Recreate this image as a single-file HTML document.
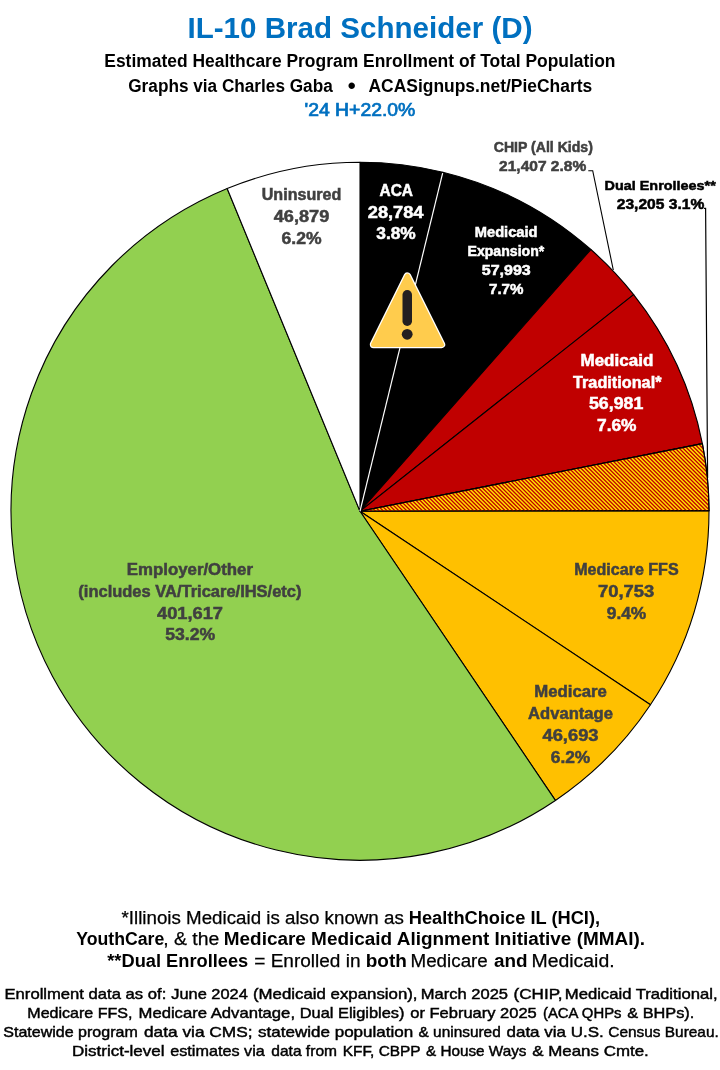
<!DOCTYPE html>
<html lang="en"><head><meta charset="utf-8"><title>IL-10 Brad Schneider (D)</title>
<style>
html,body{margin:0;padding:0;background:#fff;}
body{width:720px;height:1070px;overflow:hidden;}
svg{display:block;}
text{font-family:"Liberation Sans",sans-serif;}
.b{font-weight:bold;}
.g{fill:#404040;}
.w{fill:#ffffff;}
.k{fill:#000000;}
.bl{fill:#0070C0;}
.m{stroke:#000;stroke-width:0.45px;}
.r{stroke:#000;stroke-width:0.25px;}
.h{stroke:#000;stroke-width:0.5px;}
.sb{stroke:#0070C0;stroke-width:0.7px;}
.g.b{stroke:#404040;stroke-width:0.5px;}
.w.b{stroke:#fff;stroke-width:0.5px;}
</style></head><body>
<svg width="720" height="1070" viewBox="0 0 720 1070">
<defs>
<clipPath id="dualclip"><path d="M360.0 511.25L702.38 443.62A349.0 349.0 0 0 1 709.00 510.65Z"/></clipPath>
</defs>
<rect width="720" height="1070" fill="#ffffff"/>
<path d="M360.0 511.25L360.00 162.25A349.0 349.0 0 0 1 442.88 172.23Z" fill="#000000" stroke="#000" stroke-width="1.1" stroke-linejoin="round"/>
<path d="M360.0 511.25L442.88 172.23A349.0 349.0 0 0 1 590.87 249.52Z" fill="#000000" stroke="#000" stroke-width="1.1" stroke-linejoin="round"/>
<path d="M360.0 511.25L590.87 249.52A349.0 349.0 0 0 1 633.63 294.62Z" fill="#C00000" stroke="#000" stroke-width="1.1" stroke-linejoin="round"/>
<path d="M360.0 511.25L633.63 294.62A349.0 349.0 0 0 1 702.38 443.62Z" fill="#C00000" stroke="#000" stroke-width="1.1" stroke-linejoin="round"/>
<path d="M360.0 511.25L702.38 443.62A349.0 349.0 0 0 1 709.00 510.65Z" fill="#FFE000" stroke="#000" stroke-width="1.1" stroke-linejoin="round"/>
<path d="M360.0 511.25L709.00 510.65A349.0 349.0 0 0 1 650.46 704.73Z" fill="#FFC000" stroke="#000" stroke-width="1.1" stroke-linejoin="round"/>
<path d="M360.0 511.25L650.46 704.73A349.0 349.0 0 0 1 555.40 800.42Z" fill="#FFC000" stroke="#000" stroke-width="1.1" stroke-linejoin="round"/>
<path d="M360.0 511.25L555.40 800.42A349.0 349.0 0 1 1 227.16 188.52Z" fill="#92D050" stroke="#000" stroke-width="1.1" stroke-linejoin="round"/>
<path d="M360.0 511.25L227.16 188.52A349.0 349.0 0 0 1 360.00 162.25Z" fill="#FFFFFF" stroke="#000" stroke-width="1.1" stroke-linejoin="round"/>
<path d="M284.37 439.62l73.63 73.63M288.31 439.62l73.63 73.63M292.25 439.62l73.63 73.63M296.19 439.62l73.63 73.63M300.13 439.62l73.63 73.63M304.07 439.62l73.63 73.63M308.01 439.62l73.63 73.63M311.95 439.62l73.63 73.63M315.89 439.62l73.63 73.63M319.83 439.62l73.63 73.63M323.77 439.62l73.63 73.63M327.71 439.62l73.63 73.63M331.65 439.62l73.63 73.63M335.59 439.62l73.63 73.63M339.53 439.62l73.63 73.63M343.47 439.62l73.63 73.63M347.41 439.62l73.63 73.63M351.35 439.62l73.63 73.63M355.29 439.62l73.63 73.63M359.23 439.62l73.63 73.63M363.17 439.62l73.63 73.63M367.11 439.62l73.63 73.63M371.05 439.62l73.63 73.63M374.99 439.62l73.63 73.63M378.93 439.62l73.63 73.63M382.87 439.62l73.63 73.63M386.81 439.62l73.63 73.63M390.75 439.62l73.63 73.63M394.69 439.62l73.63 73.63M398.63 439.62l73.63 73.63M402.57 439.62l73.63 73.63M406.51 439.62l73.63 73.63M410.45 439.62l73.63 73.63M414.39 439.62l73.63 73.63M418.33 439.62l73.63 73.63M422.27 439.62l73.63 73.63M426.21 439.62l73.63 73.63M430.15 439.62l73.63 73.63M434.09 439.62l73.63 73.63M438.03 439.62l73.63 73.63M441.97 439.62l73.63 73.63M445.91 439.62l73.63 73.63M449.85 439.62l73.63 73.63M453.79 439.62l73.63 73.63M457.73 439.62l73.63 73.63M461.67 439.62l73.63 73.63M465.61 439.62l73.63 73.63M469.55 439.62l73.63 73.63M473.49 439.62l73.63 73.63M477.43 439.62l73.63 73.63M481.37 439.62l73.63 73.63M485.31 439.62l73.63 73.63M489.25 439.62l73.63 73.63M493.19 439.62l73.63 73.63M497.13 439.62l73.63 73.63M501.07 439.62l73.63 73.63M505.01 439.62l73.63 73.63M508.95 439.62l73.63 73.63M512.89 439.62l73.63 73.63M516.83 439.62l73.63 73.63M520.77 439.62l73.63 73.63M524.71 439.62l73.63 73.63M528.65 439.62l73.63 73.63M532.59 439.62l73.63 73.63M536.53 439.62l73.63 73.63M540.47 439.62l73.63 73.63M544.41 439.62l73.63 73.63M548.35 439.62l73.63 73.63M552.29 439.62l73.63 73.63M556.23 439.62l73.63 73.63M560.17 439.62l73.63 73.63M564.11 439.62l73.63 73.63M568.05 439.62l73.63 73.63M571.99 439.62l73.63 73.63M575.93 439.62l73.63 73.63M579.87 439.62l73.63 73.63M583.81 439.62l73.63 73.63M587.75 439.62l73.63 73.63M591.69 439.62l73.63 73.63M595.63 439.62l73.63 73.63M599.57 439.62l73.63 73.63M603.51 439.62l73.63 73.63M607.45 439.62l73.63 73.63M611.39 439.62l73.63 73.63M615.33 439.62l73.63 73.63M619.27 439.62l73.63 73.63M623.21 439.62l73.63 73.63M627.15 439.62l73.63 73.63M631.09 439.62l73.63 73.63M635.03 439.62l73.63 73.63M638.97 439.62l73.63 73.63M642.91 439.62l73.63 73.63M646.85 439.62l73.63 73.63M650.79 439.62l73.63 73.63M654.73 439.62l73.63 73.63M658.67 439.62l73.63 73.63M662.61 439.62l73.63 73.63M666.55 439.62l73.63 73.63M670.49 439.62l73.63 73.63M674.43 439.62l73.63 73.63M678.37 439.62l73.63 73.63M682.31 439.62l73.63 73.63M686.25 439.62l73.63 73.63M690.19 439.62l73.63 73.63M694.13 439.62l73.63 73.63M698.07 439.62l73.63 73.63M702.01 439.62l73.63 73.63M705.95 439.62l73.63 73.63M709.89 439.62l73.63 73.63M713.83 439.62l73.63 73.63" stroke="#C00000" stroke-width="1.309" fill="none" clip-path="url(#dualclip)"/>
<path d="M360.0 511.25L702.38 443.62A349.0 349.0 0 0 1 709.00 510.65Z" fill="none" stroke="#000" stroke-width="1.1" stroke-linejoin="round"/>
<line x1="360.0" y1="511.25" x2="442.64" y2="173.20" stroke="#fff" stroke-width="1.2"/>
<polyline points="588.3,170.7 592.7,170.7 613.3,270" fill="none" stroke="#000" stroke-width="1.1"/>
<polyline points="704,208.3 705.6,208.3 707.6,478" fill="none" stroke="#000" stroke-width="1.2"/>
<g>
<path d="M407.4 276 L441.5 344.5 L373.5 344.5 Z" fill="#fff" stroke="#fff" stroke-width="7.4" stroke-linejoin="round"/>
<path d="M407.4 276 L441.5 344.5 L373.5 344.5 Z" fill="#FFCC4D" stroke="#FFCC4D" stroke-width="5" stroke-linejoin="round"/>
<rect x="402.5" y="290" width="9.5" height="36" rx="4.75" fill="#231F20"/>
<circle cx="407.2" cy="334.3" r="5.4" fill="#231F20"/>
</g>
<text id="t0" x="187.50" y="37.50" font-size="30" class="b bl" textLength="345.04" lengthAdjust="spacingAndGlyphs">IL-10 Brad Schneider (D)</text>
<text id="t1" x="104.25" y="66.50" font-size="17.5" class="b k" textLength="511.26" lengthAdjust="spacingAndGlyphs">Estimated Healthcare Program Enrollment of Total Population</text>
<text id="t2" x="128.25" y="92.00" font-size="17.5" class="b k" textLength="204.50" lengthAdjust="spacingAndGlyphs">Graphs via Charles Gaba</text>
<text x="351.6" y="93.7" font-size="24" class="k" text-anchor="middle">•</text>
<text id="t3" x="368.50" y="92.00" font-size="17.5" class="b k" textLength="223.76" lengthAdjust="spacingAndGlyphs">ACASignups.net/PieCharts</text>
<text id="t4" x="304.50" y="116.00" font-size="17.5" class="bl sb" textLength="110.77" lengthAdjust="spacingAndGlyphs">'24 H+22.0%</text>
<text id="t5" x="261.75" y="200.00" font-size="15.6" class="b g" textLength="79.53" lengthAdjust="spacingAndGlyphs">Uninsured</text>
<text id="t6" x="273.75" y="222.00" font-size="16.1" class="b g" textLength="55.50" lengthAdjust="spacingAndGlyphs">46,879</text>
<text id="t7" x="281.50" y="243.75" font-size="16.1" class="b g" textLength="40.01" lengthAdjust="spacingAndGlyphs">6.2%</text>
<text id="t8" x="379.50" y="195.75" font-size="15.6" class="b w" textLength="33.50" lengthAdjust="spacingAndGlyphs">ACA</text>
<text id="t9" x="367.75" y="217.75" font-size="16.1" class="b w" textLength="55.75" lengthAdjust="spacingAndGlyphs">28,784</text>
<text id="t10" x="376.25" y="239.25" font-size="16.1" class="b w" textLength="39.50" lengthAdjust="spacingAndGlyphs">3.8%</text>
<text id="t11" x="474.75" y="237.00" font-size="13.9" class="b w" textLength="62.78" lengthAdjust="spacingAndGlyphs">Medicaid</text>
<text id="t12" x="467.50" y="255.75" font-size="13.9" class="b w" textLength="76.75" lengthAdjust="spacingAndGlyphs">Expansion*</text>
<text id="t13" x="481.75" y="275.00" font-size="14.3" class="b w" textLength="49.01" lengthAdjust="spacingAndGlyphs">57,993</text>
<text id="t14" x="489.00" y="293.75" font-size="14.3" class="b w" textLength="34.51" lengthAdjust="spacingAndGlyphs">7.7%</text>
<text id="t15" x="493.75" y="151.70" font-size="14.0" class="b g" textLength="99.11" lengthAdjust="spacingAndGlyphs">CHIP (All Kids)</text>
<text id="t16" x="499.10" y="170.80" font-size="14.4" class="b g" textLength="87.15" lengthAdjust="spacingAndGlyphs">21,407 2.8%</text>
<text id="t17" x="604.60" y="189.90" font-size="13.3" class="b k h" textLength="111.15" lengthAdjust="spacingAndGlyphs">Dual Enrollees**</text>
<text id="t18" x="616.75" y="209.30" font-size="14.1" class="b k h" textLength="87.50" lengthAdjust="spacingAndGlyphs">23,205 3.1%</text>
<text id="t19" x="580.50" y="365.75" font-size="15.6" class="b w" textLength="72.78" lengthAdjust="spacingAndGlyphs">Medicaid</text>
<text id="t20" x="573.00" y="387.50" font-size="15.6" class="b w" textLength="88.50" lengthAdjust="spacingAndGlyphs">Traditional*</text>
<text id="t21" x="589.00" y="409.25" font-size="16.1" class="b w" textLength="54.25" lengthAdjust="spacingAndGlyphs">56,981</text>
<text id="t22" x="597.00" y="430.75" font-size="16.1" class="b w" textLength="39.51" lengthAdjust="spacingAndGlyphs">7.6%</text>
<text id="t23" x="574.25" y="575.00" font-size="15.6" class="b g" textLength="104.36" lengthAdjust="spacingAndGlyphs">Medicare FFS</text>
<text id="t24" x="598.00" y="597.00" font-size="16.1" class="b g" textLength="56.27" lengthAdjust="spacingAndGlyphs">70,753</text>
<text id="t25" x="606.75" y="619.00" font-size="16.1" class="b g" textLength="39.51" lengthAdjust="spacingAndGlyphs">9.4%</text>
<text id="t26" x="534.25" y="697.30" font-size="15.6" class="b g" textLength="72.66" lengthAdjust="spacingAndGlyphs">Medicare</text>
<text id="t27" x="528.10" y="719.30" font-size="15.6" class="b g" textLength="84.80" lengthAdjust="spacingAndGlyphs">Advantage</text>
<text id="t28" x="542.50" y="740.70" font-size="16.1" class="b g" textLength="56.00" lengthAdjust="spacingAndGlyphs">46,693</text>
<text id="t29" x="550.75" y="762.70" font-size="16.1" class="b g" textLength="39.51" lengthAdjust="spacingAndGlyphs">6.2%</text>
<text id="t30" x="126.75" y="575.00" font-size="15.6" class="b g" textLength="126.25" lengthAdjust="spacingAndGlyphs">Employer/Other</text>
<text id="t31" x="78.35" y="596.70" font-size="15.6" class="b g" textLength="223.15" lengthAdjust="spacingAndGlyphs">(includes VA/Tricare/IHS/etc)</text>
<text id="t32" x="157.00" y="618.70" font-size="16.1" class="b g" textLength="66.00" lengthAdjust="spacingAndGlyphs">401,617</text>
<text id="t33" x="165.25" y="640.40" font-size="16.1" class="b g" textLength="50.01" lengthAdjust="spacingAndGlyphs">53.2%</text>
<text id="t34" x="121.50" y="923.60" font-size="17.5" class="k r" textLength="282.25" lengthAdjust="spacingAndGlyphs">*Illinois Medicaid is also known as</text>
<text id="t35" x="408.75" y="923.60" font-size="17.5" class="b k" textLength="191.33" lengthAdjust="spacingAndGlyphs">HealthChoice IL (HCI),</text>
<text id="t36" x="76.25" y="944.90" font-size="17.5" class="b k" textLength="88.01" lengthAdjust="spacingAndGlyphs">YouthCare</text>
<text id="t37" x="163.25" y="944.90" font-size="17.5" class="k r" textLength="56.10" lengthAdjust="spacingAndGlyphs">, &amp; the</text>
<text id="t38" x="223.75" y="944.90" font-size="17.5" class="b k" textLength="421.27" lengthAdjust="spacingAndGlyphs">Medicare Medicaid Alignment Initiative (MMAI).</text>
<text id="t39" x="107.25" y="967.00" font-size="17.5" class="b k" textLength="141.01" lengthAdjust="spacingAndGlyphs">**Dual Enrollees</text>
<text id="t40" x="254.25" y="967.00" font-size="17.5" class="k r" textLength="106.28" lengthAdjust="spacingAndGlyphs">= Enrolled in</text>
<text id="t41" x="365.75" y="967.00" font-size="17.5" class="b k" textLength="41.14" lengthAdjust="spacingAndGlyphs">both</text>
<text id="t42" x="410.50" y="967.00" font-size="17.5" class="k r" textLength="77.31" lengthAdjust="spacingAndGlyphs">Medicare</text>
<text id="t43" x="494.00" y="967.00" font-size="17.5" class="b k" textLength="33.60" lengthAdjust="spacingAndGlyphs">and</text>
<text id="t44" x="531.50" y="967.00" font-size="17.5" class="k r" textLength="83.12" lengthAdjust="spacingAndGlyphs">Medicaid.</text>
<text id="t45" x="4.50" y="998.75" font-size="15" class="k m" textLength="161.78" lengthAdjust="spacingAndGlyphs">Enrollment data as of:</text>
<text id="t46" x="171.25" y="998.75" font-size="15" class="k m" textLength="76.50" lengthAdjust="spacingAndGlyphs">June 2024</text>
<text id="t47" x="253.00" y="998.75" font-size="15" class="k m" textLength="164.52" lengthAdjust="spacingAndGlyphs">(Medicaid expansion),</text>
<text id="t48" x="420.75" y="998.75" font-size="15" class="k m" textLength="87.28" lengthAdjust="spacingAndGlyphs">March 2025</text>
<text id="t49" x="513.50" y="998.75" font-size="15" class="k m" textLength="49.09" lengthAdjust="spacingAndGlyphs">(CHIP,</text>
<text id="t50" x="564.75" y="998.75" font-size="15" class="k m" textLength="152.78" lengthAdjust="spacingAndGlyphs">Medicaid Traditional,</text>
<text id="t51" x="27.25" y="1018.00" font-size="15" class="k m" textLength="105.30" lengthAdjust="spacingAndGlyphs">Medicare FFS,</text>
<text id="t52" x="138.50" y="1018.00" font-size="15" class="k m" textLength="156.53" lengthAdjust="spacingAndGlyphs">Medicare Advantage,</text>
<text id="t53" x="299.75" y="1018.00" font-size="15" class="k m" textLength="104.78" lengthAdjust="spacingAndGlyphs">Dual Eligibles)</text>
<text id="t54" x="410.25" y="1018.00" font-size="15" class="k m" textLength="126.51" lengthAdjust="spacingAndGlyphs">or February 2025</text>
<text id="t55" x="543.00" y="1018.00" font-size="15" class="k m" textLength="78.51" lengthAdjust="spacingAndGlyphs">(ACA QHPs</text>
<text id="t56" x="627.25" y="1018.00" font-size="15" class="k m" textLength="67.04" lengthAdjust="spacingAndGlyphs">&amp; BHPs).</text>
<text id="t57" x="3.25" y="1036.75" font-size="15" class="k m" textLength="134.51" lengthAdjust="spacingAndGlyphs">Statewide program</text>
<text id="t58" x="144.00" y="1036.75" font-size="15" class="k m" textLength="108.53" lengthAdjust="spacingAndGlyphs">data via CMS;</text>
<text id="t59" x="258.00" y="1036.75" font-size="15" class="k m" textLength="155.26" lengthAdjust="spacingAndGlyphs">statewide population</text>
<text id="t60" x="418.50" y="1036.75" font-size="15" class="k m" textLength="82.26" lengthAdjust="spacingAndGlyphs">&amp; uninsured</text>
<text id="t61" x="506.50" y="1036.75" font-size="15" class="k m" textLength="97.28" lengthAdjust="spacingAndGlyphs">data via U.S.</text>
<text id="t62" x="608.25" y="1036.75" font-size="15" class="k m" textLength="110.53" lengthAdjust="spacingAndGlyphs">Census Bureau.</text>
<text id="t63" x="72.00" y="1056.25" font-size="15" class="k m" textLength="92.54" lengthAdjust="spacingAndGlyphs">District-level</text>
<text id="t64" x="170.25" y="1056.25" font-size="15" class="k m" textLength="94.50" lengthAdjust="spacingAndGlyphs">estimates via</text>
<text id="t65" x="271.25" y="1056.25" font-size="15" class="k m" textLength="65.77" lengthAdjust="spacingAndGlyphs">data from</text>
<text id="t66" x="342.75" y="1056.25" font-size="15" class="k m" textLength="77.78" lengthAdjust="spacingAndGlyphs">KFF, CBPP</text>
<text id="t67" x="426.00" y="1056.25" font-size="15" class="k m" textLength="100.50" lengthAdjust="spacingAndGlyphs">&amp; House Ways</text>
<text id="t68" x="532.25" y="1056.25" font-size="15" class="k m" textLength="116.52" lengthAdjust="spacingAndGlyphs">&amp; Means Cmte.</text>
</svg>
</body></html>
